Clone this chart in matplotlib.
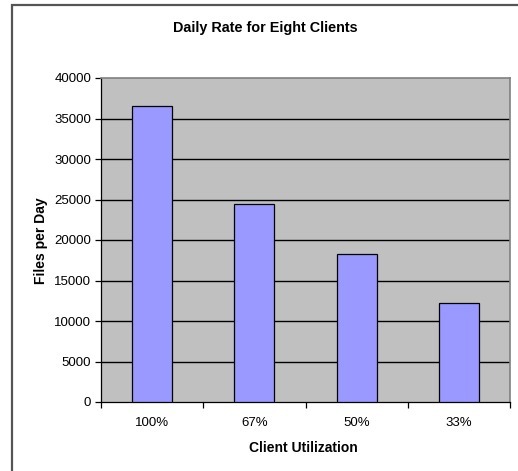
import matplotlib
matplotlib.use("Agg")
import matplotlib.pyplot as plt
from matplotlib.patches import Rectangle
import numpy as np

categories = ["100%", "67%", "50%", "33%"]
files_per_day = [36600, 24400, 18300, 12200]
yticks = [0, 5000, 10000, 15000, 20000, 25000, 30000, 35000, 40000]

plt.rcParams["font.family"] = ["Liberation Sans", "DejaVu Sans"]

W, H = 518, 471
fig = plt.figure(figsize=(W / 100, H / 100), dpi=100)
fig.patch.set_facecolor("white")

# outer chart border (only top/left visible in the original)
fig.patches.append(Rectangle((12 / W, -0.1), 1.2, (H - 5) / H + 0.1,
                             transform=fig.transFigure, fill=False,
                             edgecolor="#555555", lw=1.6))

ax = fig.add_axes([101 / W, 1 - 402 / H, (510 - 101) / W, (402 - 78) / H])
ax.set_facecolor("#C0C0C0")

x = np.arange(len(categories))
ax.bar(x, files_per_day, 0.39, color="#9999FF", edgecolor="black", lw=0.9, zorder=3)

ax.set_xlim(-0.5, len(categories) - 0.5)
ax.set_ylim(0, 40000)
ax.set_yticks(yticks)
ax.set_yticklabels([str(v) for v in yticks], fontsize=9.5)
for v in yticks[1:-1]:
    ax.axhline(v, color="black", lw=1.0, zorder=2)

ax.set_xticks(x)
ax.set_xticklabels(categories, fontsize=9.5)
ax.tick_params(axis="x", length=0, pad=11)
ax.set_xticks(np.arange(len(categories) + 1) - 0.5, minor=True)
ax.tick_params(axis="x", which="minor", length=4, width=0.9, direction="out")
ax.tick_params(axis="y", length=4, width=0.9, direction="out", pad=3)

for s in ("top", "right"):
    ax.spines[s].set_color("#808080")
    ax.spines[s].set_linewidth(1.2)
for s in ("left", "bottom"):
    ax.spines[s].set_color("black")
    ax.spines[s].set_linewidth(0.9)

fig.text(265 / W, 1 - 28 / H, "Daily Rate for Eight Clients", ha="center", va="center",
         fontsize=10.4, fontweight="bold")
fig.text(303 / W, 1 - 448 / H, "Client Utilization", ha="center", va="center",
         fontsize=10, fontweight="bold")
fig.text(41 / W, 1 - 241 / H, "Files per Day", ha="center", va="center",
         rotation=90, fontsize=10, fontweight="bold")

fig.savefig("out.png", dpi=100)
